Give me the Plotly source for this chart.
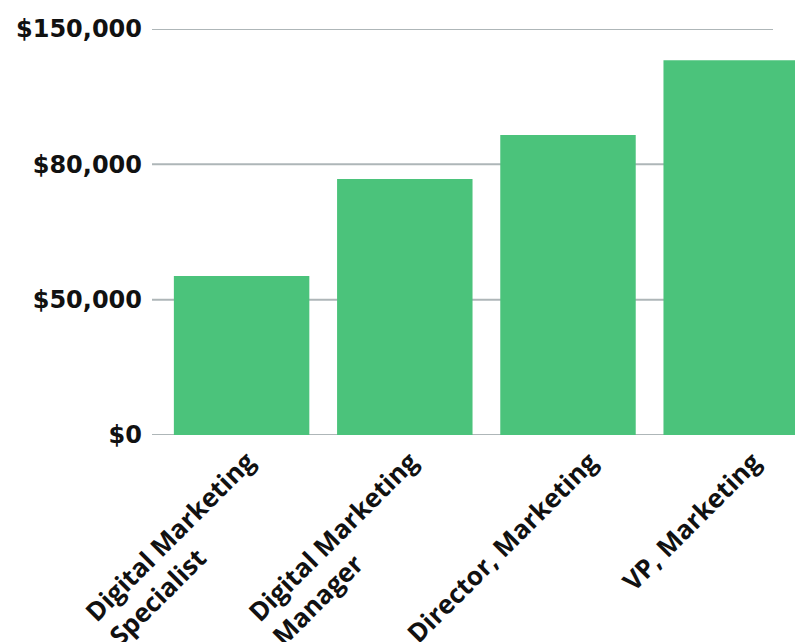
import plotly.graph_objects as go

categories = ["Digital Marketing<br>Specialist", "Digital Marketing<br>Manager",
              "Director, Marketing", "VP, Marketing"]
values = [58700, 94600, 110800, 138500]
tick_vals = [0, 50000, 100000, 150000]
tick_text = ["$0", "$50,000", "$80,000", "$150,000"]

# page body has an 8px margin, so the figure is drawn 8px in from the top-left
W, H = 795, 634
ml, mr, mt, mb = 152, 0, 21, 207
plot_w = W - ml - mr
cat_px = 163.2

x_idx = list(range(len(categories)))
fig = go.Figure(go.Bar(x=x_idx, y=values,
                       marker=dict(color="#4BC37B", line=dict(width=0))))

shapes = []
for v in tick_vals:
    shapes.append(dict(type="line", xref="paper", yref="y",
                       x0=-8 / plot_w, x1=(773 - 160) / plot_w, y0=v, y1=v,
                       line=dict(color="#AEB6B8", width=2), layer="below"))

annotations = []
for i, lab in zip(x_idx, categories):
    two_line = "<br>" in lab
    annotations.append(dict(
        x=i, y=0, xref="x", yref="y", text=lab, showarrow=False,
        textangle=-45, align="left", xanchor="right", yanchor="top",
        xshift=48 if two_line else 40, yshift=-6,
        font=dict(family="Open Sans", size=26, color="#111111", weight="bold")))

fig.update_layout(
    width=W, height=H, margin=dict(l=ml, r=mr, t=mt, b=mb, pad=0),
    paper_bgcolor="white", plot_bgcolor="white",
    bargap=0.17, showlegend=False, shapes=shapes, annotations=annotations,
    xaxis=dict(tickmode="array", tickvals=x_idx, showticklabels=False,
               range=[-0.5, -0.5 + plot_w / cat_px], showgrid=False,
               zeroline=False, showline=False, ticks=""),
    yaxis=dict(range=[0, 150000], tickmode="array", tickvals=tick_vals, ticktext=tick_text,
               showgrid=False, zeroline=False, showline=False, ticks="",
               ticklabelstandoff=17,
               tickfont=dict(family="DejaVu Sans", size=24, color="#111111", weight="bold")),
)

fig.write_html("out.html")
